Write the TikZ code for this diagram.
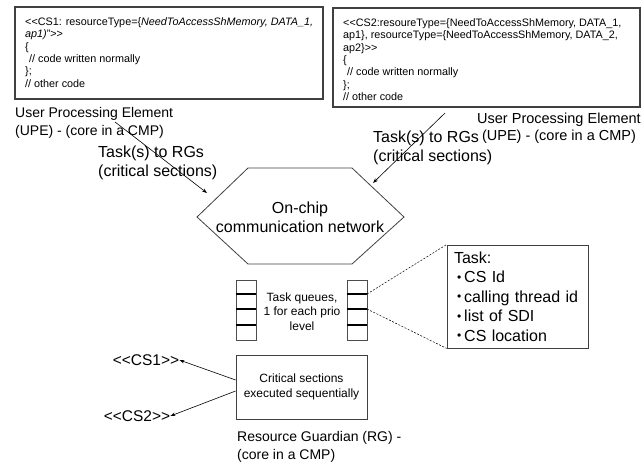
\documentclass[tikz,border=0pt]{standalone}
\usepackage{fontspec}
\setmainfont{Liberation Sans}
\usetikzlibrary{arrows.meta}
\newcommand\dLT{<\kern0pt<}
\newcommand\dGT{>\kern0pt>}
\newcommand\sbul{\hspace*{3pt}\raisebox{1.5pt}{\fontsize{12}{12}\selectfont\textbullet}\hspace{3pt}}
\begin{document}
\begin{tikzpicture}[x=1pt,y=-1pt,
  codebox/.style={draw=black!75,line width=1.1pt},
  codetext/.style={anchor=north west,inner sep=0pt,align=left,font=\fontsize{10.8}{12.3}\selectfont},
  lbl/.style={inner sep=0pt,align=left,font=\fontsize{14}{18}\selectfont},
  biglbl/.style={inner sep=0pt,align=left,font=\fontsize{16}{19}\selectfont},
  arr/.style={-{Stealth[length=5pt,width=3.5pt]},line width=0.6pt},
  qbox/.style={draw=black!70,line width=0.7pt},
  qdiv/.style={line width=1.1pt},
  dotline/.style={dashed,dash pattern=on 2pt off 1.5pt,line width=0.5pt},
  plainbox/.style={draw=black!75,line width=0.8pt}
]
\useasboundingbox (0,0) rectangle (644,462);

% code boxes
\draw[codebox] (15,7) rectangle (323,99);
\node[codetext] (code1) at (25,17.5) {\dLT CS1: resourceType=\{\textit{NeedToAccessShMemory, DATA\_1,}\\
\textit{ap1)}"\dGT\\
\{\\
\hspace*{4pt}// code written normally\\
\};\\
// other code};

\draw[codebox] (333,8) rectangle (640,107);
\node[codetext] (code2) at (343,18.5) {\dLT CS2:resoureType=\{NeedToAccessShMemory, DATA\_1,\\
ap1\}, resourceType=\{NeedToAccessShMemory, DATA\_2,\\
ap2\}\dGT\\
\{\\
\hspace*{4pt}// code written normally\\
\};\\
// other code};

% UPE labels
\node[lbl,anchor=north west] (upe1) at (15,107) {User Processing Element\\(UPE) - (core in a CMP)};
\node[lbl,align=center,anchor=north,font=\fontsize{14.5}{17}\selectfont] (upe2) at (559,112.5) {User Processing Element\\(UPE) - (core in a CMP)};

% task labels
\node[biglbl,anchor=north west] (tl1) at (98,146) {Task(s) to RGs\\(critical sections)};
\node[biglbl,anchor=north west] (tl2) at (373,131) {Task(s) to RGs\\(critical sections)};

% hexagon
\coordinate (h1) at (197,217);
\coordinate (h2) at (248,168);
\coordinate (h3) at (352,168);
\coordinate (h4) at (404,217);
\coordinate (h5) at (352,264);
\coordinate (h6) at (248,264);
\draw[plainbox] (h1) -- (h2) -- (h3) -- (h4) -- (h5) -- (h6) -- cycle;
\node[biglbl,align=center] (net) at (300,217.5) {On-chip\\communication network};

% arrows to network
\coordinate (a1s) at (115,122);
\coordinate (a1e) at (207,193);
\coordinate (a2s) at (445,113);
\coordinate (a2e) at (373,183);
\draw[arr] (a1s) -- (a1e);
\draw[arr] (a2s) -- (a2e);

% task queues
\draw[qbox] (236,280) rectangle (256,340);
\draw[qdiv] (236,294) -- (256,294);
\draw[qdiv] (236,309) -- (256,309);
\draw[qdiv] (236,325) -- (256,325);
\draw[qbox] (347,280) rectangle (367,340);
\draw[qdiv] (347,294) -- (367,294);
\draw[qdiv] (347,309) -- (367,309);
\draw[qdiv] (347,325) -- (367,325);
\coordinate (qR1) at (367,294);
\coordinate (qR2) at (367,309);
\node[inner sep=0pt,align=center,font=\fontsize{12}{14.5}\selectfont] (qtext) at (302,311.5) {Task queues,\\1 for each prio\\level};

% task box
\node[plainbox,minimum width=141pt,minimum height=103pt,text width=127pt,inner xsep=7pt,inner ysep=0pt,align=left,font=\fontsize{16}{19.4}\selectfont] (task) at (517.5,296.5)
{Task:\\
\sbul CS Id\\
\sbul calling thread id\\
\sbul list of SDI\\
\sbul CS location};
\draw[dotline] (qR1) -- (task.north west);
\draw[dotline] (qR2) -- (task.south west);

% critical sections box
\node[plainbox,minimum width=131pt,minimum height=64pt,inner sep=0pt,align=center,font=\fontsize{12}{15}\selectfont] (cs) at (301.5,387) {Critical sections\\executed sequentially};

% CS labels
\node[inner sep=0pt,font=\fontsize{15.5}{18}\selectfont] (cs1) at (146,360) {\dLT CS1\dGT};
\node[inner sep=0pt,font=\fontsize{15.5}{18}\selectfont] (cs2) at (137,416) {\dLT CS2\dGT};
\draw[arr] ([yshift=7pt]cs.west) -- (cs1.east);
\draw[arr] ([yshift=-4pt]cs.west) -- (cs2.east);

% RG label
\node[lbl,anchor=north west] (rg) at (237,431) {Resource Guardian (RG) -\\(core in a CMP)};
\end{tikzpicture}
\end{document}
